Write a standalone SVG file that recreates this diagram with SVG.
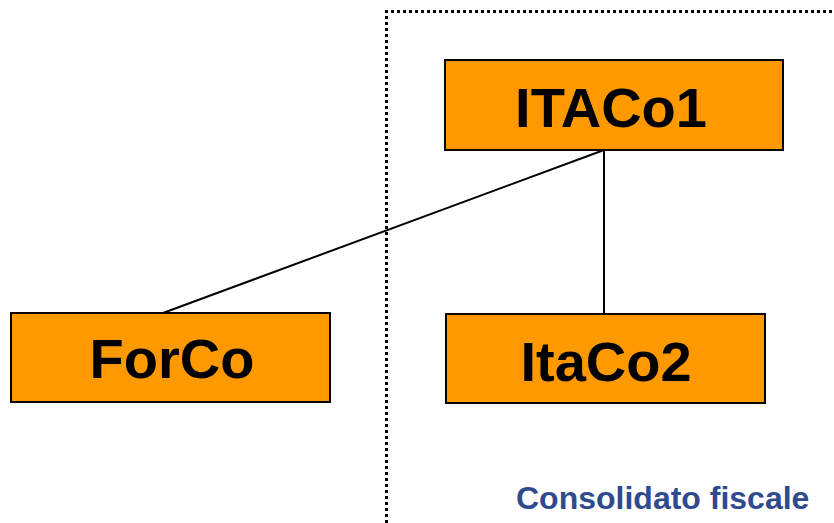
<svg xmlns="http://www.w3.org/2000/svg" width="834" height="523" viewBox="0 0 834 523">
  <style>
    .box { fill: #FF9900; stroke: #000; stroke-width: 2; }
    .label { font-family: "Liberation Sans", Arial, sans-serif; font-weight: bold; font-size: 56px; fill: #000; text-anchor: middle; }
    .link { stroke: #000; stroke-width: 2; fill: none; }
    .boundary { stroke: #000; stroke-width: 3; stroke-dasharray: 3 3; fill: none; }
    .caption { font-family: "Liberation Sans", Arial, sans-serif; font-weight: bold; font-size: 32px; fill: #2F4B8E; }
  </style>
  <rect width="834" height="523" fill="#fff"/>

  <!-- fiscal consolidation boundary -->
  <path class="boundary" d="M386.5 523 V11.5 H834"/>

  <g id="connectors">
    <line class="link" x1="604" y1="150" x2="163" y2="313"/>
    <line class="link" x1="604" y1="150" x2="604" y2="314"/>
  </g>

  <g id="itaco1">
    <rect class="box" x="445" y="60" width="338" height="90"/>
    <text class="label" x="611" y="127">ITACo1</text>
  </g>
  <g id="forco">
    <rect class="box" x="11" y="313" width="319" height="89"/>
    <text class="label" x="172" y="378">ForCo</text>
  </g>
  <g id="itaco2">
    <rect class="box" x="446" y="314" width="319" height="89"/>
    <text class="label" x="606" y="381">ItaCo2</text>
  </g>

  <text class="caption" x="516" y="509">Consolidato fiscale</text>
</svg>
